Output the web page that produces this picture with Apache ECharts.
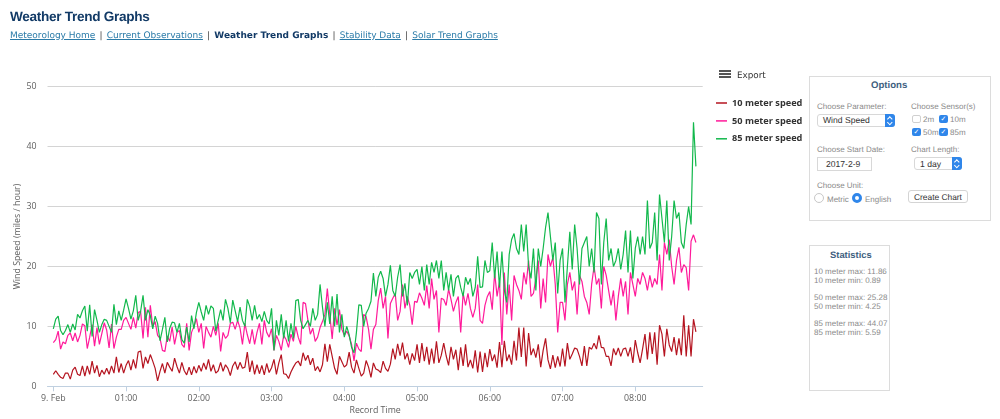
<!DOCTYPE html>
<html><head><meta charset="utf-8">
<script src="https://cdn.jsdelivr.net/npm/echarts@6/dist/echarts.min.js"></script>
<style>
html,body{margin:0;padding:0;background:#fff;width:1000px;height:419px;overflow:hidden;text-rendering:geometricPrecision}
body{filter:blur(0.35px)}
#chart{position:absolute;left:0;top:0;width:1000px;height:419px}
.t{position:absolute;white-space:nowrap;font-family:"Liberation Sans",sans-serif;line-height:12px}
.g{color:#8a8a8a;font-size:8px}
.b{position:absolute;box-sizing:border-box;background:#fff}
.nav{font-family:"DejaVu Sans",sans-serif;font-size:9px;color:#444}
.nav a{color:#2b7ba8;text-decoration:underline}
.nav b{color:#123a66}
.nav s{text-decoration:none;margin:0 1.3px}
.sel{border:1px solid #d8d8d8;border-radius:3px}
.sel i{position:absolute;right:-1px;top:-1px;bottom:-1px;width:10px;background:#2f86ea;border-radius:0 3px 3px 0}
.sel i:before,.sel i:after{content:"";position:absolute;left:3.2px;width:2.6px;height:2.6px;border:solid #fff;border-width:1px 0 0 1px;transform:rotate(45deg)}
.sel i:before{top:3px}
.sel i:after{top:6.6px;transform:rotate(225deg)}
.cb{width:8px;height:8px;border-radius:2px;background:#2f86ea;color:#fff;font-size:7px;line-height:8px;text-align:center}
</style></head><body>
<div id="chart"></div>
<div class="t" style="left:10px;top:9px;font-size:13.6px;line-height:16px;letter-spacing:-0.3px;font-weight:bold;color:#123a66">Weather Trend Graphs</div>
<div class="t nav" style="left:10px;top:30px"><a>Meteorology Home</a> <s>|</s> <a>Current Observations</a> <s>|</s> <b>Weather Trend Graphs</b> <s>|</s> <a>Stability Data</a> <s>|</s> <a>Solar Trend Graphs</a></div>
<div class="b" style="left:719px;top:70px;width:12px;height:2px;background:#555"></div>
<div class="b" style="left:719px;top:73px;width:12px;height:2px;background:#555"></div>
<div class="b" style="left:719px;top:76px;width:12px;height:2px;background:#555"></div>
<div class="t" style="left:737px;top:70px;font-family:'DejaVu Sans';font-size:8.8px;color:#333">Export</div>

<div class="b" style="left:809px;top:76px;width:182px;height:145px;border:1px solid #dcdcdc"></div>
<div class="t" style="left:871px;top:80px;font-size:9.6px;font-weight:bold;color:#3f5f7f">Options</div>
<div class="t g" style="left:817px;top:101px">Choose Parameter:</div>
<div class="b sel" style="left:817px;top:114px;width:78px;height:13px"><i></i></div>
<div class="t" style="left:823px;top:114px;font-size:8.6px;color:#333">Wind Speed</div>
<div class="t g" style="left:911px;top:101px">Choose Sensor(s)</div>
<div class="b" style="left:912px;top:115px;width:9px;height:8px;border:1px solid #d0d0d0;border-radius:2px"></div>
<div class="t g" style="left:923px;top:114px">2m</div>
<div class="b cb" style="left:939px;top:115px;width:9px">✓</div><div class="t g" style="left:950px;top:114px">10m</div>
<div class="b cb" style="left:912px;top:128px;width:9px">✓</div><div class="t g" style="left:923px;top:127px">50m</div>
<div class="b cb" style="left:939px;top:128px;width:9px">✓</div><div class="t g" style="left:950px;top:127px">85m</div>
<div class="t g" style="left:817px;top:144px">Choose Start Date:</div>
<div class="b" style="left:817px;top:157px;width:55px;height:14px;border:1px solid #d8d8d8"></div>
<div class="t" style="left:826px;top:158px;font-size:8.6px;color:#333">2017-2-9</div>
<div class="t g" style="left:911px;top:144px">Chart Length:</div>
<div class="b sel" style="left:914px;top:157px;width:48px;height:13px"><i></i></div>
<div class="t" style="left:920px;top:158px;font-size:8.6px;color:#333">1 day</div>
<div class="t g" style="left:817px;top:180px">Choose Unit:</div>
<div class="b" style="left:814px;top:193px;width:10px;height:10px;border:1px solid #c8c8c8;border-radius:50%"></div>
<div class="t g" style="left:827px;top:194px">Metric</div>
<div class="b" style="left:852px;top:193px;width:10px;height:10px;border:3.5px solid #2f86ea;border-radius:50%"></div>
<div class="t g" style="left:865px;top:194px">English</div>
<div class="b" style="left:908px;top:190px;width:60px;height:13px;border:1px solid #d4d4d4;border-radius:3px"></div>
<div class="t" style="left:914px;top:191px;font-size:8.4px;color:#333">Create Chart</div>

<div class="b" style="left:809px;top:245px;width:81px;height:146px;border:1px solid #dcdcdc"></div>
<div class="t" style="left:830px;top:249px;font-size:9.4px;font-weight:bold;color:#3f5f7f">Statistics</div>
<div class="t g" style="left:814px;top:266px">10 meter max: 11.86</div>
<div class="t g" style="left:814px;top:275px">10 meter min: 0.89</div>
<div class="t g" style="left:814px;top:292px">50 meter max: 25.28</div>
<div class="t g" style="left:814px;top:301px">50 meter min: 4.25</div>
<div class="t g" style="left:814px;top:318px">85 meter max: 44.07</div>
<div class="t g" style="left:814px;top:327px">85 meter min: 5.59</div>
<script>
const seriesNames = ['10 meter speed','50 meter speed','85 meter speed'];
const seriesColors = ['#b51420','#ff1a9a','#12b84c'];
const stepMinutes = 2;
const speed10m = [
2,2.6,2,1.5,1.3,2.2,2.2,1.2,2.7,3.2,2,1.8,3.4,1.7,3.4,2,4.2,2.2,3.5,1.6,2.7,2,3,2,3.4,2.2,4.9,2.3,3.8,2.2,
3.5,4.3,2.7,4.5,3,5.7,5.9,3,4.9,3.8,5.3,4.2,3,0.89,2.5,3.8,2.2,4,3.2,2.5,4.7,3.3,2.2,4,2.6,1.9,3.2,1.9,3.3,2.2,
3.5,2.5,3.9,2.8,4.5,2.5,3.6,2.2,2.6,4,2.5,3.6,3,1.8,3.4,4.1,2.8,4,3,3.2,5.7,2.4,4.3,2,3.6,2.1,3.5,1.9,3.8,2.3,
3.1,4.5,2,3.9,5.3,2.1,2,1.3,2.4,3.2,3.9,4.2,3.4,5.6,4.3,5.2,3.6,4.7,2.6,3.3,2.4,3.6,7.1,4.1,7,5,3,2,5,4.1,
3.2,3.6,5.7,3.2,2.2,4.4,3,1.7,2.2,4.3,3.2,1.5,3.9,2.9,2.7,2.3,4.2,3,2.5,3.7,6.3,4.5,7.1,5.1,7.3,4.5,5.5,3.6,5.5,4.3,
7,3.9,7.2,4.2,6.6,3.6,6.3,3.8,7.5,3.9,5.2,7.2,5.1,3.5,6.6,4.5,6.1,2.7,6.5,3.4,7,3.2,4.4,3,6,2.3,5.8,2.4,5.6,3.2,
6.2,4.2,5.3,3.1,7.4,3.2,7.6,4.2,5.3,3.6,7.6,4.3,9.8,4.9,9.8,3.3,8.9,5.2,6.3,4.8,7,3.2,6,8,4.4,2.9,5.2,3.1,5,3.3,
6.3,3.3,7.2,4.5,5.4,6.4,6.2,5,3.4,6.7,3.4,6.5,6.2,7.2,6.2,8.5,6.5,6.4,5,5,3.4,6.3,5.2,6.4,5,6.2,6.4,5,6.5,3.9,
7.7,5.6,3.9,6.2,8.7,4.5,9,5.4,9,3.6,10.2,8.7,5,9.6,6.9,5.8,8.2,5.2,8,5.2,11.86,5,10.2,5,11.2,9.1];
const speed50m = [
7.3,7.8,9.2,6.2,7.4,7.1,8.5,8.9,7.6,8.9,7.4,8.5,10.4,10.1,6.3,8.2,10.3,6.7,9.8,7,8.8,10.6,9.4,6.4,10.4,6.3,8.2,9.5,9.5,11,
11.5,10.5,9.5,11.5,9.7,12.3,12.5,8,13.2,8.2,13.5,10,10.8,8.5,8,6,5.8,8.4,7.5,9.9,7,9,9.3,7,6.5,10.5,6,9,10,11.3,
9,10.5,6.3,10,9,8.2,10,8.5,10.5,5.8,9,8,8.5,10.5,10.7,9.5,11,9.7,7,10.5,8.6,7.1,9.5,7,9,10.5,7,11,9,8.2,
9.6,6,8.5,7.5,6,8.5,7.8,6.5,8.7,7.5,10,8.2,7,14,13.8,11,8.7,9.7,7.5,8.2,9.8,10.8,12,16.3,12,7.9,13,10.2,12.8,9.5,
8.5,9.2,8.4,7,4.25,7.2,6.2,5.8,12,11.6,9.5,6.2,9.5,10.3,14.3,16.4,13,15,8,13.8,14.7,15.5,11,12.5,17,13,15,13.5,10.3,14.2,
14,15.6,14.7,13.5,16.8,13,18,14.5,16,9,14.7,14.5,13.5,16.2,14.5,12.5,14,15,9,15.5,13.5,15.5,13,11.5,13,17,11,10.5,13.5,15,
15.8,12.8,19,15,17.5,6.9,19,12,17,11,18.5,17,16,14.5,19,17,21,15,15.5,18,21,13,18,14,22,20,21.5,17,9,14,
14,11,17,19,16,17.5,12,18.5,17.5,15,14,12,17,20,17,18,13,20,18.5,16,13.5,16,11,15,18,15,17.5,12,19,17,
15,18,17,19,18,16,18.5,16.5,18,17,22,16,24,22,24.5,20,17,21,23.2,19,20.3,19.8,16,24.2,25.28,24];
const speed85m = [
9.6,11.2,11.7,9.3,8.6,9.3,10.3,9,10.4,9.4,12,11.4,12.6,13.4,9.2,13.6,8.3,12.8,11,9,10.3,11.2,11,10,9,13.7,10.3,12.6,11,12.7,
14.6,13,11.2,12.6,15.2,11,12.5,15.2,11,12.8,11.8,9.6,11.7,10.5,7.6,9.5,11.5,7.4,9.7,10.7,10.6,9,10.5,7.8,7.2,9.9,7.4,11.8,9.6,12.3,
14,12.4,11,13.5,12,13.4,13,9.2,11,12.8,11,14.5,13,10.6,14.4,12.6,10.8,13.2,11,10,14.5,13.3,11,13.5,11.2,12,10.8,12.5,11,10.4,
13,6,11,8.5,12,8,11,7.5,10.5,8,14.3,14.5,11,9.6,10.3,11,10,13,11,12,17,13.2,10,14,10.4,15,10,15.4,9,12,
8.2,10,8.6,6.5,5.59,9,13.6,13.5,10,12.2,13,14.2,18.9,15,18.2,19.2,18,15,17,20.2,16,15,18.2,20.3,15,17.2,13.5,19,18,19,
19.5,17,20,16,20.3,17,20.7,19,21,18,21,16,19,16,18.7,15,18,18.5,16.5,15,18.2,17,18,15,16.5,21.7,16.5,16.6,21,19,
19.3,24,18,22.5,16.5,22.5,16,14,22,24.5,25.5,23,22,27,22.5,27,20,18,23,16,23,20,23,26.5,29,25,21,24,15.5,21,
23,14,20,25.8,19.5,27,23,17,23,24,25,20,23,19,29,28,17,24,28,21,23,20,21,23,19.5,22,26,19,26,18,
23,25,22,25,22,31,23,24,29,21,32,28,24,31,21,25,31,28,29,24,23,27,30,27,44.07,36.7];
const yTicks = {min:0,max:50,interval:10};
const startTime = Date.UTC(2017,1,9);
const minute = 60000;
const toPairs = arr => arr.map((v,i)=>[startTime+i*stepMinutes*minute,v]);
const chart = echarts.init(document.getElementById('chart'),null,{renderer:'canvas'});
const axisFont = {fontFamily:'Open Sans',fontSize:8.8,color:'#606060'};
chart.setOption({
  useUTC:true,animation:false,backgroundColor:'#fff',
  grid:{left:47.5,right:297.3,top:86.7,bottom:32.7,containLabel:false,outerBoundsMode:'none'},
  legend:{orient:'vertical',left:716,top:98.5,padding:0,itemWidth:11,itemHeight:1.5,itemGap:8.9,
    data:seriesNames,icon:'rect',
    textStyle:{fontFamily:'Open Sans',fontSize:9.2,fontWeight:'bold',color:'#333'}},
  xAxis:{type:'time',min:startTime-4.8*minute,max:startTime+535.6*minute,
    minInterval:3600000,maxInterval:3600000,
    name:'Record Time',nameLocation:'middle',nameGap:20,nameMoveOverlap:false,nameTextStyle:axisFont,
    axisLine:{lineStyle:{color:'#C0D0E0',width:1}},axisTick:{show:true,length:5,lineStyle:{color:'#C0D0E0'}},
    splitLine:{show:false},
    axisLabel:Object.assign({},axisFont,{margin:8,showMinLabel:false,showMaxLabel:false,
      formatter:v=>{const d=new Date(v);if(v===startTime)return '9. Feb';
        return String(d.getUTCHours()).padStart(2,'0')+':'+String(d.getUTCMinutes()).padStart(2,'0');}})},
  yAxis:{type:'value',min:yTicks.min,max:yTicks.max,interval:yTicks.interval,
    name:'Wind Speed (miles / hour)',nameLocation:'middle',nameGap:26,nameMoveOverlap:false,nameTextStyle:axisFont,
    axisLine:{show:false},axisTick:{show:false},
    splitLine:{lineStyle:{color:'#d4d4d4',width:1}},
    axisLabel:Object.assign({},axisFont,{margin:11,padding:[8,0,0,0]})},
  series:[speed10m,speed50m,speed85m].map((arr,k)=>({
    name:seriesNames[k],type:'line',data:toPairs(arr),showSymbol:false,symbol:'none',smooth:false,
    lineStyle:{width:1.2,color:seriesColors[k]},itemStyle:{color:seriesColors[k]},z:2+k}))
});
</script>
</body></html>
